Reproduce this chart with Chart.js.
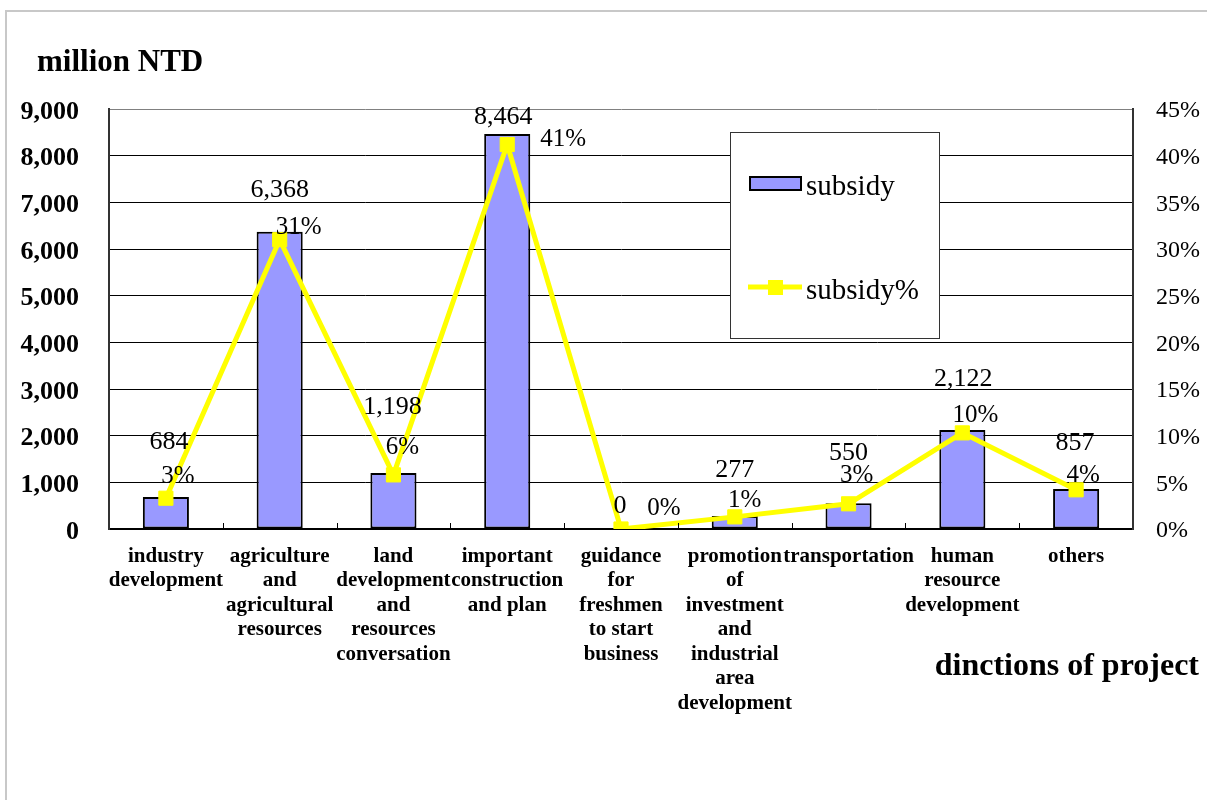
<!DOCTYPE html>
<html>
<head>
<meta charset="utf-8">
<title>subsidy by dinctions of project</title>
<script src="https://cdn.jsdelivr.net/npm/chart.js@4/dist/chart.umd.min.js"></script>
<style>
  html, body { margin: 0; padding: 0; background: #fff; }
  #wrap { width: 1207px; height: 800px; position: relative; }
</style>
</head>
<body>
<div id="wrap"><canvas id="c" width="1207" height="800"></canvas></div>
<script>
// ---- data ----
const categories = [
  ['industry', 'development'],
  ['agriculture', 'and', 'agricultural', 'resources'],
  ['land', 'development', 'and', 'resources', 'conversation'],
  ['important', 'construction', 'and plan'],
  ['guidance', 'for', 'freshmen', 'to start', 'business'],
  ['promotion', 'of', 'investment', 'and', 'industrial', 'area', 'development'],
  ['transportation'],
  ['human', 'resource', 'development'],
  ['others']
];
const subsidy = [684, 6368, 1198, 8464, 0, 277, 550, 2122, 857];      // million NTD
const subsidyPct = [3.3, 31.0, 5.8, 41.2, 0, 1.3, 2.7, 10.3, 4.2];    // share of total, %
const leftTicks = { min: 0, max: 9000, step: 1000 };
const rightTicks = { min: 0, max: 45, step: 5 };

// ---- layout / style ----
const FONT = "'Liberation Serif', 'Times New Roman', serif";
const BAR_FILL = '#9999FF';
const LINE_COLOR = '#FFFF00';
// nudges of the value labels, in px, relative to each mark
const subsidyLabelShift = [[3,-55],[0,-42],[-1,-66],[-4,-17],[-1,-23],[0,-46],[0,-50],[1,-51],[-1,-46]];
const pctLabelShift = [[12,-22],[19,-12],[9,-27],[56,-5],[43,-21],[10,-16],[8,-28],[13,-17],[7,-14]];

const fmtThousands = v => Number(v).toLocaleString('en-US');
const fmtPct = v => Math.round(v) + '%';

const decor = {
  id: 'decor',
  beforeDraw(chart) {
    const ctx = chart.ctx;
    ctx.save();
    ctx.fillStyle = '#fff';
    ctx.fillRect(0, 0, chart.width, chart.height);
    ctx.strokeStyle = '#c8c8c8';
    ctx.lineWidth = 2;
    ctx.strokeRect(6, 11, chart.width + 40, chart.height + 40);
    ctx.restore();
  },
  afterDatasetsDraw(chart) {
    const ctx = chart.ctx;
    const area = chart.chartArea;
    const xs = chart.scales.x;
    ctx.save();
    // small inward ticks between categories
    ctx.strokeStyle = '#000';
    ctx.lineWidth = 1;
    for (let k = 1; k < categories.length; k++) {
      const x = Math.round((xs.getPixelForValue(k - 1) + xs.getPixelForValue(k)) / 2) + 0.5;
      ctx.beginPath();
      ctx.moveTo(x, area.bottom);
      ctx.lineTo(x, area.bottom - 6);
      ctx.stroke();
    }

    // value labels
    ctx.fillStyle = '#000';
    ctx.font = '26px ' + FONT;
    ctx.textAlign = 'center';
    ctx.textBaseline = 'middle';
    const barMeta = chart.getDatasetMeta(1);
    barMeta.data.forEach((el, i) => {
      const s = subsidyLabelShift[i];
      ctx.fillText(fmtThousands(subsidy[i]), el.x + s[0], el.y + s[1]);
    });
    ctx.font = '25px ' + FONT;
    const lineMeta = chart.getDatasetMeta(0);
    lineMeta.data.forEach((el, i) => {
      const s = pctLabelShift[i];
      ctx.fillText(fmtPct(subsidyPct[i]), el.x + s[0], el.y + s[1]);
    });

    // legend box
    const lx = 730, ly = 132, lw = 209, lh = 206;
    ctx.fillStyle = '#fff';
    ctx.fillRect(lx, ly, lw, lh);
    ctx.strokeStyle = '#333';
    ctx.lineWidth = 1;
    ctx.strokeRect(lx + 0.5, ly + 0.5, lw, lh);

    const bar = chart.data.datasets[1];
    const line = chart.data.datasets[0];
    ctx.fillStyle = bar.backgroundColor;
    ctx.fillRect(750, 177, 51, 13);
    ctx.strokeStyle = '#000';
    ctx.lineWidth = 2;
    ctx.strokeRect(750, 177, 51, 13);

    ctx.strokeStyle = line.borderColor;
    ctx.lineWidth = 5;
    ctx.beginPath();
    ctx.moveTo(748, 287);
    ctx.lineTo(802, 287);
    ctx.stroke();
    ctx.fillStyle = line.borderColor;
    ctx.fillRect(768, 280, 15, 15);

    ctx.fillStyle = '#000';
    ctx.font = '29px ' + FONT;
    ctx.textAlign = 'left';
    ctx.textBaseline = 'middle';
    ctx.fillText(bar.label, 806, 187);
    ctx.fillText(line.label, 806, 291);
    ctx.restore();
  },
  afterDraw(chart) {
    const ctx = chart.ctx;
    ctx.save();
    ctx.fillStyle = '#000';
    ctx.font = 'bold 31px ' + FONT;
    ctx.textBaseline = 'alphabetic';
    ctx.textAlign = 'left';
    ctx.fillText('million NTD', 37, 71);
    ctx.font = 'bold 32px ' + FONT;
    ctx.textAlign = 'right';
    ctx.fillText('dinctions of project', 1199, 675);
    ctx.restore();
  }
};

new Chart(document.getElementById('c'), {
  data: {
    labels: categories,
    datasets: [
      {
        type: 'line',
        label: 'subsidy%',
        data: subsidyPct,
        yAxisID: 'y1',
        order: 0,
        borderColor: LINE_COLOR,
        backgroundColor: LINE_COLOR,
        borderWidth: 5,
        tension: 0,
        pointStyle: 'rect',
        pointRadius: 10,
        pointBorderWidth: 1,
        pointBackgroundColor: LINE_COLOR,
        pointBorderColor: LINE_COLOR
      },
      {
        type: 'bar',
        label: 'subsidy',
        data: subsidy,
        yAxisID: 'y',
        order: 1,
        backgroundColor: BAR_FILL,
        borderColor: '#000',
        borderWidth: 2,
        borderSkipped: false,
        barPercentage: 0.405,
        categoryPercentage: 1
      }
    ]
  },
  options: {
    responsive: false,
    animation: false,
    devicePixelRatio: 1,
    layout: { padding: { top: 109, left: 0, right: 0, bottom: 0 } },
    plugins: {
      legend: { display: false },
      tooltip: { enabled: false },
      title: { display: false }
    },
    scales: {
      x: {
        type: 'category',
        offset: true,
        grid: { display: false, drawTicks: false },
        border: { display: true, color: '#000', width: 2 },
        ticks: {
          autoSkip: false,
          maxRotation: 0,
          minRotation: 0,
          padding: 15,
          color: '#000',
          font: { family: FONT, size: 21, weight: 'bold', lineHeight: '24.5px' }
        },
        afterFit(scale) { scale.height = 271; }
      },
      y: {
        position: 'left',
        min: leftTicks.min,
        max: leftTicks.max,
        ticks: {
          stepSize: leftTicks.step,
          padding: 30,
          labelOffset: 3,
          color: '#000',
          font: { family: FONT, size: 26, weight: 'bold' },
          callback: v => fmtThousands(v)
        },
        grid: {
          drawTicks: false,
          color: ctx => (ctx.tick && ctx.tick.value === leftTicks.max) ? '#808080' : '#000',
          lineWidth: 1
        },
        border: { display: true, color: '#333', width: 2 },
        afterFit(scale) { scale.width = 109; }
      },
      y1: {
        position: 'right',
        min: rightTicks.min,
        max: rightTicks.max,
        ticks: {
          stepSize: rightTicks.step,
          padding: 23,
          labelOffset: 2,
          color: '#000',
          font: { family: FONT, size: 24 },
          callback: v => v + '%'
        },
        grid: { drawOnChartArea: false, drawTicks: false },
        border: { display: true, color: '#333', width: 2 },
        afterFit(scale) { scale.width = 74; }
      }
    }
  },
  plugins: [decor]
});
</script>
</body>
</html>
